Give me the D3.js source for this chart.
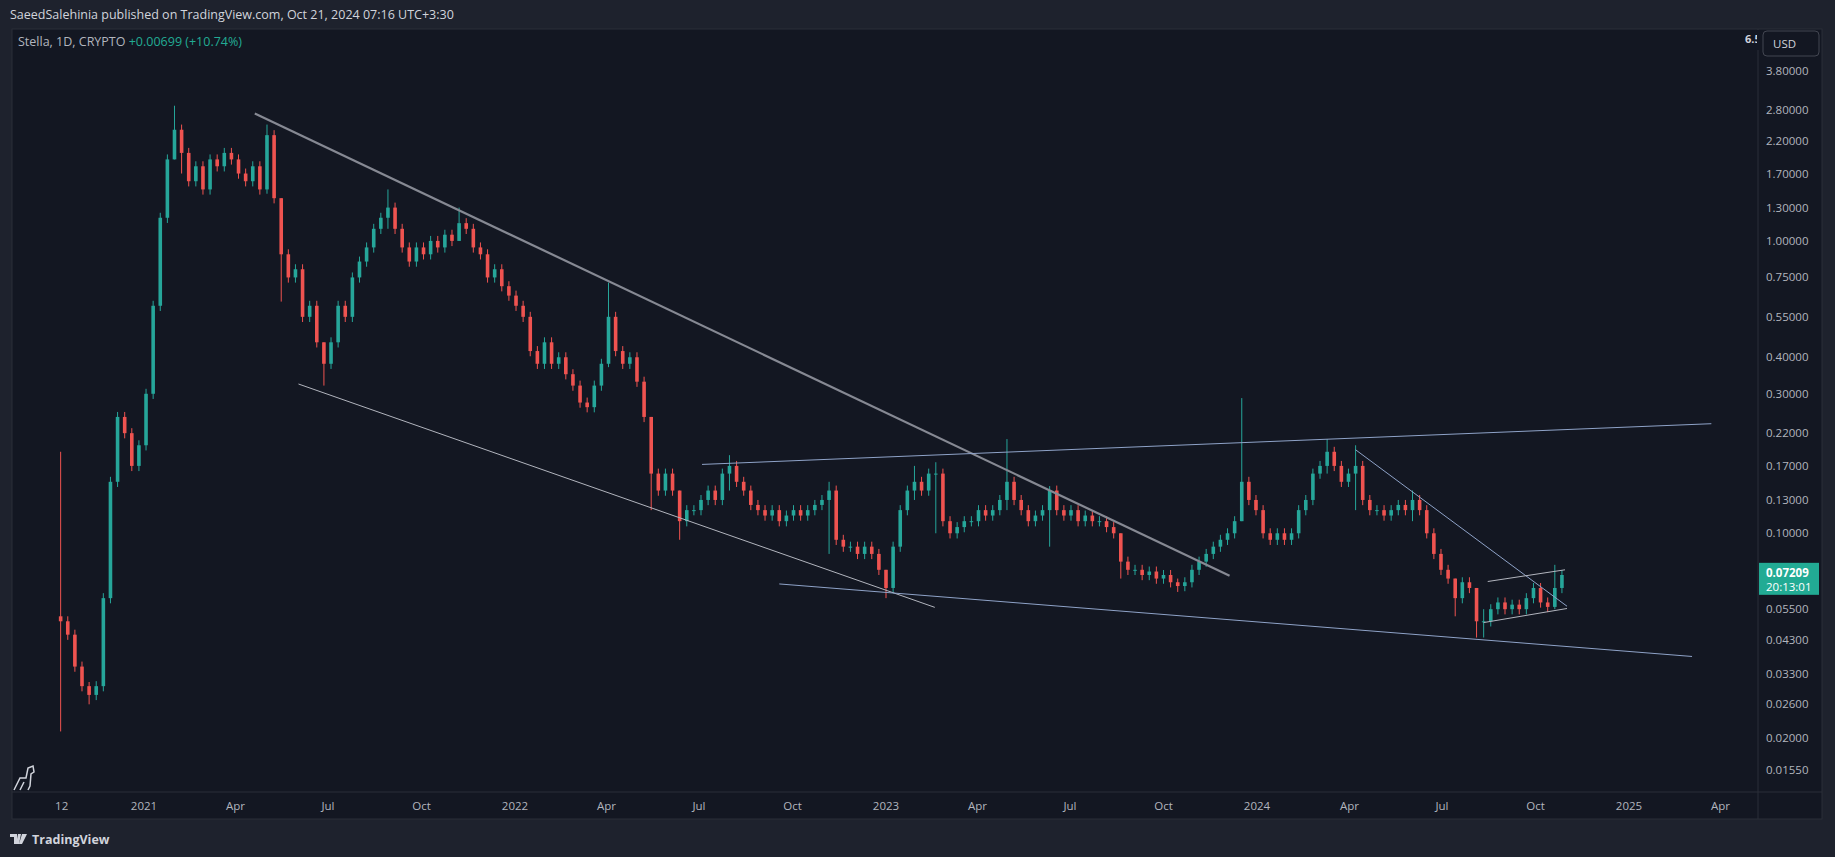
<!DOCTYPE html>
<html><head><meta charset="utf-8">
<script src="https://cdn.jsdelivr.net/npm/d3@7"></script>
<style>body{margin:0;background:#1e222d;overflow:hidden}svg{display:block}text{font-family:"Open Sans","Noto Sans",sans-serif}</style>
</head><body><svg id="c" width="1835" height="857"></svg>
<script>
// weekly closes starting 2020-10-11
const startDate = "2020-10-11";
const closes = [0.05,0.045,0.035,0.03,0.028,0.03,0.06,0.15,0.25,0.22,0.17,0.2,0.3,0.6,1.2,1.9,2.4,2.0,1.6,1.8,
1.5,1.9,1.8,2.0,1.9,1.7,1.6,1.8,1.5,2.3,1.4,0.9,0.75,0.8,0.55,0.6,0.45,0.38,0.45,0.6,
0.55,0.75,0.85,0.95,1.1,1.2,1.3,1.1,0.95,0.85,0.95,0.9,1.0,0.95,1.05,1.0,1.15,1.1,0.95,0.9,
0.75,0.8,0.7,0.65,0.6,0.55,0.42,0.38,0.45,0.38,0.4,0.35,0.32,0.28,0.27,0.32,0.38,0.55,0.42,0.38,
0.4,0.33,0.25,0.16,0.14,0.16,0.14,0.11,0.12,0.12,0.13,0.14,0.13,0.16,0.17,0.15,0.14,0.125,0.12,0.115,
0.12,0.11,0.115,0.12,0.115,0.12,0.125,0.13,0.14,0.095,0.09,0.09,0.085,0.09,0.085,0.075,0.065,0.09,0.12,0.14,
0.15,0.14,0.16,0.16,0.11,0.1,0.105,0.11,0.11,0.12,0.115,0.12,0.13,0.15,0.13,0.12,0.11,0.115,0.12,0.14,
0.12,0.115,0.12,0.11,0.115,0.11,0.11,0.105,0.1,0.08,0.075,0.075,0.072,0.074,0.07,0.072,0.068,0.066,0.068,0.075,
0.08,0.085,0.09,0.095,0.1,0.11,0.15,0.13,0.12,0.1,0.095,0.1,0.095,0.1,0.12,0.13,0.16,0.17,0.19,0.17,
0.15,0.16,0.17,0.13,0.12,0.12,0.115,0.12,0.125,0.12,0.13,0.12,0.1,0.085,0.075,0.07,0.06,0.068,0.065,0.05,
0.05,0.055,0.058,0.055,0.057,0.055,0.06,0.065,0.058,0.056,0.065,0.072];
const firstOpen = 0.052;
// notable wick extremes: [week index, high, low]
const wicks = [[0,0.19,0.021],[4,0.031,0.026],[16,2.9,1.9],[17,2.5,1.7],[29,2.5,1.45],[31,1.4,0.62],[37,0.45,0.32],[46,1.5,1.1],
[56,1.3,1.0],[77,0.72,0.37],[83,0.25,0.12],[87,0.14,0.095],[94,0.185,0.14],[108,0.15,0.085],[116,0.075,0.06],[120,0.17,0.13],
[123,0.175,0.1],[133,0.21,0.12],[139,0.145,0.09],[149,0.1,0.07],[157,0.07,0.063],[166,0.29,0.11],[178,0.21,0.16],[182,0.2,0.12],
[190,0.14,0.11],[196,0.07,0.052],[199,0.065,0.044],[200,0.055,0.044],[210,0.078,0.055]];
// trend lines: [date1, price1, date2, price2, colour, width]
const trendLines = [
 ["2021-04-20",2.73,"2023-12-05",0.0716,"#868993",2.2],
 ["2021-06-02",0.324,"2023-02-18",0.0558,"#b2b5be",1],
 ["2022-07-04",0.172,"2025-03-23",0.237,"#8fa3c8",1],
 ["2022-09-18",0.0671,"2025-03-04",0.0379,"#8fa3c8",1],
 ["2024-04-07",0.193,"2024-11-01",0.0563,"#8fa3c8",1],
 ["2024-08-15",0.0684,"2024-10-30",0.075,"#b2b5be",1],
 ["2024-08-11",0.0495,"2024-11-01",0.0553,"#b2b5be",1]];
const priceTicks = [3.8,2.8,2.2,1.7,1.3,1.0,0.75,0.55,0.4,0.3,0.22,0.17,0.13,0.10,0.055,0.043,0.033,0.026,0.02,0.0155];
const timeTicks = [["2020-10-12","12"],["2021-01-01","2021"],["2021-04-01","Apr"],["2021-07-01","Jul"],["2021-10-01","Oct"],
["2022-01-01","2022"],["2022-04-01","Apr"],["2022-07-01","Jul"],["2022-10-01","Oct"],["2023-01-01","2023"],["2023-04-01","Apr"],
["2023-07-01","Jul"],["2023-10-01","Oct"],["2024-01-01","2024"],["2024-04-01","Apr"],["2024-07-01","Jul"],["2024-10-01","Oct"],
["2025-01-01","2025"],["2025-04-01","Apr"]];
const lastPrice = 0.07209;

const svg = d3.select("#c");
const P = {l:12,r:1758,t:29,b:792,ax:1822,tb:819};
svg.append("rect").attr("width",1835).attr("height",857).attr("fill","#1e222d");
svg.append("rect").attr("x",P.l).attr("y",P.t).attr("width",P.ax-P.l).attr("height",P.tb-P.t).attr("fill","#131722");
svg.append("line").attr("x1",P.r).attr("x2",P.r).attr("y1",P.t).attr("y2",P.tb).attr("stroke","#2a2e39");
svg.append("line").attr("x1",P.l).attr("x2",P.ax).attr("y1",P.b).attr("y2",P.b).attr("stroke","#2a2e39");
svg.append("rect").attr("x",P.l).attr("y",P.t).attr("width",P.ax-P.l).attr("height",P.tb-P.t).attr("fill","none").attr("stroke","#2a2e39");

const pd = d3.utcParse("%Y-%m-%d");
const x = d3.scaleUtc().domain([pd("2021-01-01"),pd("2022-01-01")]).range([144,515]);
const y = d3.scaleLog().domain([3.8,0.0155]).range([71.4,770]);
const t0 = pd(startDate);
const data = closes.map((c,i)=>{
  const o = i===0?firstOpen:closes[i-1];
  const w = wicks.find(d=>d[0]===i);
  return {d:d3.utcDay.offset(t0,7*i),o,c,h:w?Math.max(w[1],o,c):Math.max(o,c)*1.04,l:w?Math.min(w[2],o,c):Math.min(o,c)*0.96};
});
const g = svg.append("g");
const bw = 3.6;
data.forEach(d=>{
  const col = d.c>=d.o?"#26a69a":"#ef5350";
  const cx = x(d.d);
  g.append("line").attr("x1",cx).attr("x2",cx).attr("y1",y(d.h)).attr("y2",y(d.l)).attr("stroke",col).attr("stroke-width",1);
  const y1=y(Math.max(d.o,d.c)), y2=y(Math.min(d.o,d.c));
  g.append("rect").attr("x",cx-bw/2).attr("y",y1).attr("width",bw).attr("height",Math.max(1,y2-y1)).attr("fill",col);
});
trendLines.forEach(t=>{
  svg.append("line").attr("x1",x(pd(t[0]))).attr("y1",y(t[1])).attr("x2",x(pd(t[2]))).attr("y2",y(t[3]))
   .attr("stroke",t[4]).attr("stroke-width",t[5]);
});
priceTicks.forEach(p=>{
  svg.append("text").attr("x",1766).attr("y",y(p)+4).attr("fill","#b2b5be").attr("font-size",11.5).text(p.toFixed(5));
});
const ly = y(lastPrice);
svg.append("rect").attr("x",P.r+1).attr("y",ly-12).attr("width",60).attr("height",32).attr("fill","#22ab94");
svg.append("text").attr("x",1766).attr("y",ly+2).attr("fill","#fff").attr("font-size",11.5).attr("font-weight","bold").text(lastPrice.toFixed(5));
svg.append("text").attr("x",1766).attr("y",ly+16).attr("fill","#fff").attr("font-size",11.5).text("20:13:01");
svg.append("rect").attr("x",1763).attr("y",31).attr("width",56).attr("height",25).attr("rx",4).attr("fill","#131722").attr("stroke","#434651");
svg.append("text").attr("x",1773).attr("y",48).attr("fill","#d1d4dc").attr("font-size",11.5).text("USD");
svg.append("text").attr("x",1745).attr("y",43).attr("fill","#d1d4dc").attr("font-size",11).attr("font-weight","bold").text("6.5");
svg.append("rect").attr("x",1757).attr("y",30).attr("width",5).attr("height",20).attr("fill","#131722");
timeTicks.forEach(t=>{
  svg.append("text").attr("x",x(pd(t[0]))).attr("y",810).attr("text-anchor","middle").attr("fill","#b2b5be").attr("font-size",11.5).text(t[1]);
});
svg.append("text").attr("x",10).attr("y",19).attr("fill","#d1d4dc").attr("font-size",12.5).text("SaeedSalehinia published on TradingView.com, Oct 21, 2024 07:16 UTC+3:30");
const hd = svg.append("text").attr("x",18).attr("y",46).attr("font-size",12.5);
hd.append("tspan").attr("fill","#b2b5be").text("Stella, 1D, CRYPTO  ");
hd.append("tspan").attr("fill","#22ab94").text("+0.00699 (+10.74%)");
// footer logo + text
svg.append("path").attr("d","M10 834 h7 v10 h-3 v-7 h-4 z M18 834 h3 l-2 10 h-3 z M22 834 h5 l-5 10 h-3 z").attr("fill","#d1d4dc");
svg.append("text").attr("x",32).attr("y",844).attr("fill","#d1d4dc").attr("font-size",12.5).attr("font-weight","bold").text("TradingView");
svg.append("path").attr("d","M14 790 L20 778 L26 778 L28 768 L33 766 L34 772 L31 774 L30 786 L28 790 M20 790 L24 782").attr("fill","none").attr("stroke","#d1d4dc").attr("stroke-width",1.5);
</script></body></html>
